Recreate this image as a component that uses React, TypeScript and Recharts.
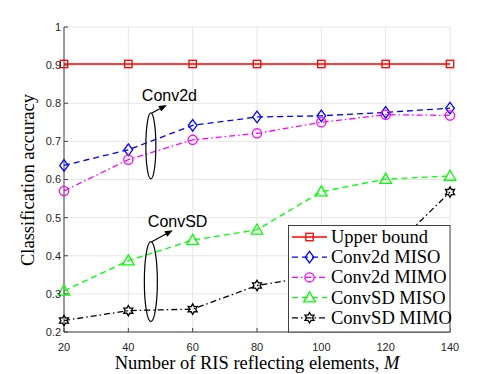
import React from 'react';
import { LineChart, Line, XAxis, YAxis, CartesianGrid, ReferenceDot, Customized } from 'recharts';

if (typeof document !== 'undefined') document.body.style.margin = '0';

const M = [20, 40, 60, 80, 100, 120, 140];
const upperBound = [0.903, 0.903, 0.903, 0.903, 0.903, 0.903, 0.903];
const conv2dMISO = [0.637, 0.678, 0.742, 0.764, 0.767, 0.776, 0.787];
const conv2dMIMO = [0.570, 0.652, 0.704, 0.721, 0.750, 0.770, 0.768];
const convSDMISO = [0.308, 0.387, 0.441, 0.468, 0.568, 0.601, 0.609];
const convSDMIMO = [0.230, 0.256, 0.260, 0.322, 0.350, 0.402, 0.567];
const xTicks = [20, 40, 60, 80, 100, 120, 140];
const yTicks = [0.2, 0.3, 0.4, 0.5, 0.6, 0.7, 0.8, 0.9, 1];
const seriesNames = ['Upper bound', 'Conv2d MISO', 'Conv2d MIMO', 'ConvSD MISO', 'ConvSD MIMO'];

const data = M.map((m, i) => ({
  m,
  ub: upperBound[i],
  c2miso: conv2dMISO[i],
  c2mimo: conv2dMIMO[i],
  sdmiso: convSDMISO[i],
  sdmimo: convSDMIMO[i],
}));

const RED = '#ff0000';
const BLUE = '#0000ff';
const MAG = '#ff00ff';
const GREEN = '#00ff00';
const BLACK = '#000000';
const DASH = '6 4';
const DASHDOT = '6 3 1.5 3';

const Square = (cx: number, cy: number, c: string) => (
  <rect x={cx - 3.7} y={cy - 3.7} width={7.4} height={7.4} fill="none" stroke={c} strokeWidth={1.3} />
);
const Diamond = (cx: number, cy: number, c: string) => (
  <polygon points={`${cx},${cy - 5.8} ${cx + 4.3},${cy} ${cx},${cy + 5.8} ${cx - 4.3},${cy}`} fill="none" stroke={c} strokeWidth={1.3} />
);
const Circle = (cx: number, cy: number, c: string) => (
  <circle cx={cx} cy={cy} r={4.6} fill="none" stroke={c} strokeWidth={1.3} />
);
const Triangle = (cx: number, cy: number, c: string) => (
  <polygon points={`${cx},${cy - 5.8} ${cx + 5.8},${cy + 4.2} ${cx - 5.8},${cy + 4.2}`} fill="none" stroke={c} strokeWidth={1.3} />
);
const Hexagram = (cx: number, cy: number, c: string) => {
  const pts: string[] = [];
  for (let k = 0; k < 12; k++) {
    const r = k % 2 === 0 ? 5.2 : 3.0;
    const a = -Math.PI / 2 + (k * Math.PI) / 6;
    pts.push(`${cx + r * Math.cos(a)},${cy + r * Math.sin(a)}`);
  }
  return <polygon points={pts.join(' ')} fill="none" stroke={c} strokeWidth={1.3} />;
};

const mk = (fn: (cx: number, cy: number, c: string) => React.ReactElement, c: string) => (p: any) => {
  if (p.cx == null || p.cy == null) return <g key={p.key} />;
  return <g key={p.key}>{fn(p.cx, p.cy, c)}</g>;
};

const tickStyle = { fontFamily: 'Liberation Sans, Arial, sans-serif', fontSize: 11, fill: '#262626' };
const SERIF = 'Liberation Serif, Times New Roman, serif';

const Arrow = ({ x1, y1, x2, y2 }: { x1: number; y1: number; x2: number; y2: number }) => {
  const ang = Math.atan2(y2 - y1, x2 - x1);
  const L = 8, W = 3.2;
  const bx = x2 - L * Math.cos(ang), by = y2 - L * Math.sin(ang);
  const px = -Math.sin(ang) * W, py = Math.cos(ang) * W;
  return (
    <g>
      <line x1={x1} y1={y1} x2={bx} y2={by} stroke="#000" strokeWidth={1.2} />
      <polygon points={`${x2},${y2} ${bx + px},${by + py} ${bx - px},${by - py}`} fill="#000" />
    </g>
  );
};

const Annot1 = (p: any) => {
  const { cx, cy } = p;
  return (
    <g>
      <ellipse cx={cx} cy={cy} rx={5} ry={33} fill="none" stroke="#000" strokeWidth={1.2} />
      <Arrow x1={cx + 1} y1={cy - 33} x2={cx + 16} y2={cy - 41} />
      <text x={cx - 9} y={cy - 45} fontFamily="Liberation Sans, Arial, sans-serif" fontSize={16} fill="#000">Conv2d</text>
    </g>
  );
};
const Annot2 = (p: any) => {
  const { cx, cy } = p;
  return (
    <g>
      <ellipse cx={cx} cy={cy} rx={6.5} ry={40} fill="none" stroke="#000" strokeWidth={1.2} />
      <Arrow x1={cx + 1} y1={cy - 40} x2={cx + 22} y2={cy - 51.5} />
      <text x={cx - 3} y={cy - 55} fontFamily="Liberation Sans, Arial, sans-serif" fontSize={16} fill="#000">ConvSD</text>
    </g>
  );
};

const Titles = () => (
  <g>
    <text x={257} y={369} textAnchor="middle" fontFamily={SERIF} fontSize={18.5} fill="#000">
      Number of RIS reflecting elements, <tspan fontStyle="italic">M</tspan>
    </text>
    <text x={0} y={0} transform="translate(34,180) rotate(-90)" textAnchor="middle" fontFamily={SERIF} fontSize={18.5} fill="#000">
      Classification accuracy
    </text>
  </g>
);

const legendItems = [
  { c: RED, dash: undefined as string | undefined, m: Square },
  { c: BLUE, dash: DASH, m: Diamond },
  { c: MAG, dash: DASHDOT, m: Circle },
  { c: GREEN, dash: DASH, m: Triangle },
  { c: BLACK, dash: DASHDOT, m: Hexagram },
];

const LegendBox = () => (
  <svg width={163} height={108} style={{ position: 'absolute', left: 288, top: 225, overflow: 'visible' }}>
    <rect x={0.5} y={0.5} width={161.5} height={106.5} fill="#fff" stroke="#404040" strokeWidth={1} />
    {legendItems.map((it, i) => {
      const y = 12 + i * 20.2;
      return (
        <g key={i}>
          <line x1={4} y1={y} x2={39} y2={y} stroke={it.c} strokeWidth={1.3} strokeDasharray={it.dash} />
          {it.m(21.5, y, it.c)}
          <text x={43} y={y} dominantBaseline="central" fontFamily={SERIF} fontSize={18.5} fill="#000">
            {seriesNames[i]}
          </text>
        </g>
      );
    })}
  </svg>
);

export default function App() {
  return (
    <div style={{ position: 'relative', width: 498, height: 374, background: '#fff' }}>
      <LineChart width={498} height={374} data={data} margin={{ top: 27, right: 48, left: 24, bottom: 12 }}>
        <CartesianGrid stroke="#e6e6e6" strokeWidth={1} />
        <XAxis
          dataKey="m"
          type="number"
          domain={[20, 140]}
          ticks={xTicks}
          tick={tickStyle}
          tickSize={-4}
          tickMargin={15}
          height={30}
          stroke="#404040"
          interval={0}
        />
        <XAxis xAxisId="top" orientation="top" dataKey="m" type="number" domain={[20, 140]} ticks={xTicks} tick={false} tickSize={-4} height={0} stroke="#404040" />
        <YAxis
          type="number"
          domain={[0.2, 1]}
          ticks={yTicks}
          tick={tickStyle}
          tickSize={-4}
          tickMargin={7}
          width={40}
          stroke="#404040"
          interval={0}
          tickFormatter={(v: number) => (v === 1 ? '1' : v.toFixed(1))}
        />
        <YAxis yAxisId="right" orientation="right" type="number" domain={[0.2, 1]} ticks={yTicks} tick={false} tickSize={-4} width={0} stroke="#404040" />
        <Line dataKey="ub" stroke={RED} strokeWidth={1.3} dot={mk(Square, RED)} isAnimationActive={false} />
        <Line dataKey="c2miso" stroke={BLUE} strokeWidth={1.3} strokeDasharray={DASH} dot={mk(Diamond, BLUE)} isAnimationActive={false} />
        <Line dataKey="c2mimo" stroke={MAG} strokeWidth={1.3} strokeDasharray={DASHDOT} dot={mk(Circle, MAG)} isAnimationActive={false} />
        <Line dataKey="sdmiso" stroke={GREEN} strokeWidth={1.3} strokeDasharray={DASH} dot={mk(Triangle, GREEN)} isAnimationActive={false} />
        <Line dataKey="sdmimo" stroke={BLACK} strokeWidth={1.3} strokeDasharray={DASHDOT} dot={mk(Hexagram, BLACK)} isAnimationActive={false} />
        <ReferenceDot x={47} y={0.688} r={0} shape={Annot1} ifOverflow="visible" />
        <ReferenceDot x={47} y={0.332} r={0} shape={Annot2} ifOverflow="visible" />
        <Customized component={Titles} />
      </LineChart>
      <LegendBox />
    </div>
  );
}
